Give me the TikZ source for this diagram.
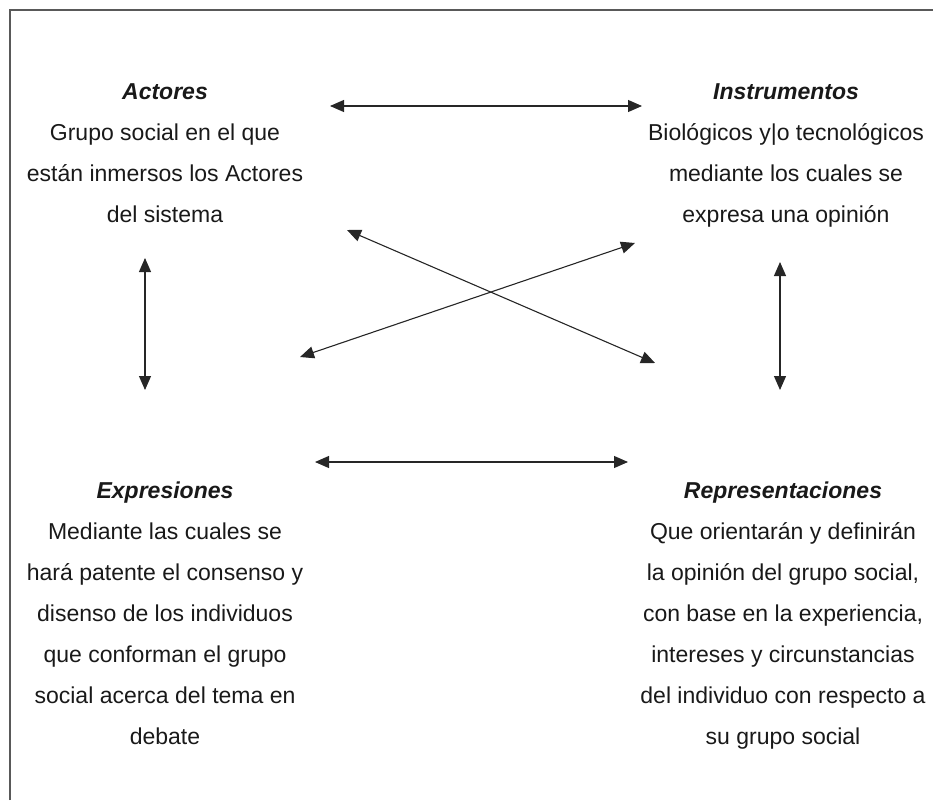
\documentclass[tikz,border=0pt]{standalone}
\usepackage{fontspec}
\setmainfont{Liberation Sans}
\usetikzlibrary{arrows.meta,positioning}

\tikzset{
  bloque/.style={align=center, inner sep=0pt, anchor=north, text=black!90,
    font=\fontsize{23}{41}\selectfont},
  flecha/.style={{Triangle[length=14pt,width=12pt]}-{Triangle[length=14pt,width=12pt]},
    line width=1.1pt, black!85},
  marco/.style={draw=black!65, line width=1.6pt}
}
\newcommand{\titulo}[1]{\textbf{\textit{#1}}}

\begin{document}
\begin{tikzpicture}[x=1pt,y=-1pt]
  \useasboundingbox (0,0) rectangle (933,800);

  % Marco
  \coordinate (esqInf) at (10,800);
  \coordinate (esqSup) at (10,10);
  \coordinate (esqDer) at (933,10);
  \draw[marco] (esqInf) -- (esqSup) -- (esqDer);

  % Actores
  \node[bloque] (actores) at (165,83.5) {\titulo{Actores}\\
    Grupo social en el que\\
    están inmersos los Actores\\
    del sistema};

  % Instrumentos
  \node[bloque] (instrumentos) at (786,83.5) {\titulo{Instrumentos}\\
    Biológicos y|o tecnológicos\\
    mediante los cuales se\\
    expresa una opinión};

  % Expresiones
  \node[bloque] (expresiones) at (165,481.5) {\titulo{Expresiones}\\
    Mediante las cuales se\\
    hará patente el consenso y\\
    disenso de los individuos\\
    que conforman el grupo\\
    social acerca del tema en\\
    debate};

  % Representaciones
  \node[bloque] (representaciones) at (783,481.5) {\titulo{Representaciones}\\
    Que orientarán y definirán\\
    la opinión del grupo social,\\
    con base en la experiencia,\\
    intereses y circunstancias\\
    del individuo con respecto a\\
    su grupo social};

  % Extremos de las flechas
  \coordinate (supIzq) at (330,106);
  \coordinate (supDer) at (642,106);
  \coordinate (infIzq) at (315,462);
  \coordinate (infDer) at (628,462);
  \coordinate (izqArr) at (145,258);
  \coordinate (izqAba) at (145,390);
  \coordinate (derArr) at (780,262);
  \coordinate (derAba) at (780,390);
  \coordinate (cruzA1) at (347,230);
  \coordinate (cruzA2) at (655,363);
  \coordinate (cruzB1) at (300,357);
  \coordinate (cruzB2) at (635,243);

  % Flechas
  \foreach \p/\q in {supIzq/supDer, infIzq/infDer, izqArr/izqAba,
                     derArr/derAba, cruzA1/cruzA2, cruzB1/cruzB2} {
    \draw[flecha] (\p) -- (\q);
  }
\end{tikzpicture}
\end{document}
